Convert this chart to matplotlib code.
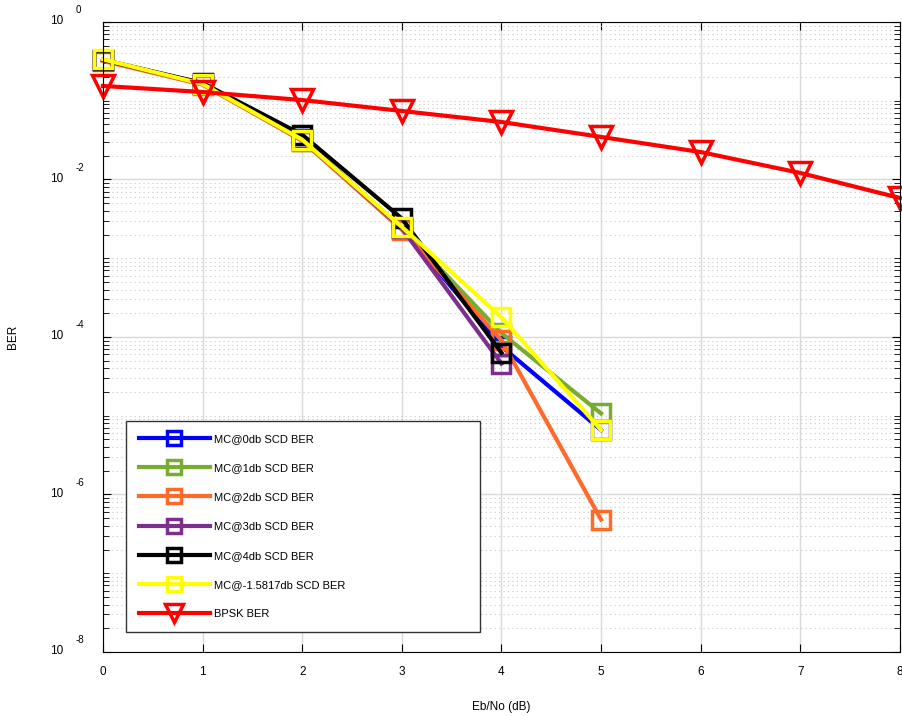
import numpy as np
import matplotlib
matplotlib.use('Agg')
import matplotlib.pyplot as plt
from matplotlib.ticker import LogLocator, NullFormatter

plt.rcParams['font.family'] = ['Liberation Sans', 'DejaVu Sans']

# Data
ebno_mc = [0, 1, 2, 3, 4, 5]
ebno_bpsk = [0, 1, 2, 3, 4, 5, 6, 7, 8]

ber_mc0 = [0.33, 0.165, 0.033, 0.0024, 7.6e-05, 6.6e-06]
ber_mc1 = [0.33, 0.163, 0.031, 0.0024, 0.000112, 1.07e-05]
ber_mc2 = [0.32, 0.16, 0.031, 0.0023, 9.1e-05, 4.8e-07]
ber_mc3 = [0.33, 0.163, 0.032, 0.0024, 4.6e-05, None]
ber_mc4 = [0.33, 0.168, 0.037, 0.0032, 6.3e-05, None]
ber_mcm = [0.335, 0.163, 0.032, 0.0025, 0.000178, 6.6e-06]
ber_bpsk = [0.154, 0.129, 0.102, 0.0741, 0.0537, 0.0347, 0.0223, 0.0121, 0.00582]

labels = ['MC@0db SCD BER', 'MC@1db SCD BER', 'MC@2db SCD BER',
          'MC@3db SCD BER', 'MC@4db SCD BER', 'MC@-1.5817db SCD BER', 'BPSK BER']
colors = ['#0000ff', '#77ac30', '#ff6a2a', '#7e2f8e', '#000000', '#ffff00', '#ff0000']

fig = plt.figure(figsize=(9.03, 7.16), dpi=100)
ax = fig.add_axes([0.114, 0.0894, 0.8826, 0.8799])

series = [ber_mc0, ber_mc1, ber_mc2, ber_mc3, ber_mc4, ber_mcm]
for ys, lab, c in zip(series, labels[:6], colors[:6]):
    xs = [x for x, y in zip(ebno_mc, ys) if y is not None]
    yv = [y for y in ys if y is not None]
    ax.plot(xs, yv, '-s', color=c, lw=3, ms=12.5, mfc='none', mew=2.5,
            label=lab, clip_on=False)
ax.plot(ebno_bpsk, ber_bpsk, '-v', color=colors[6], lw=3, ms=16, mfc='none',
        mew=2.5, label=labels[6], clip_on=False)

ax.set_yscale('log')
ax.set_xlim(0, 8)
ax.set_ylim(1e-8, 1)
ax.set_xticks(range(0, 9))
ax.yaxis.set_major_locator(LogLocator(base=100))
ax.yaxis.set_minor_locator(LogLocator(base=10, subs=np.arange(1, 10), numticks=20))
ax.yaxis.set_major_formatter(NullFormatter())
ax.yaxis.set_minor_formatter(NullFormatter())

# MATLAB-style tick labels: "10" with the exponent offset up and right
for e in [0, -2, -4, -6, -8]:
    ax.text(-0.050, 10.0**e * 10**0.01, '10', transform=ax.get_yaxis_transform(),
            ha='right', va='center', fontsize=8.5)
    ax.text(-0.034, 10.0**e * 10**0.15, str(e), transform=ax.get_yaxis_transform(),
            ha='left', va='center', fontsize=7)

ax.tick_params(which='both', direction='in', top=True, right=True, labelsize=8.5)
ax.tick_params(which='major', length=6)
ax.tick_params(which='minor', length=4)
ax.tick_params(axis='x', pad=10)

ax.grid(True, which='major', color='#d9d9d9', lw=1, ls='-')
ax.grid(True, which='minor', axis='y', color='#c8c8c8', lw=0.8, ls=(0, (1, 3)))
ax.set_axisbelow(True)

ax.set_xlabel('Eb/No (dB)', fontsize=8.5, labelpad=17)
ax.set_ylabel('BER', fontsize=8.5, labelpad=57)

leg = ax.legend(loc='lower left', bbox_to_anchor=(0.0289, 0.0317, 0.444, 0.336),
                mode='expand', fontsize=8, handlelength=6.4, handletextpad=0.4,
                labelspacing=1.73, borderpad=1.15, borderaxespad=0,
                fancybox=False, framealpha=1, edgecolor='#333333', markerscale=0.8)
leg.get_frame().set_linewidth(1)

fig.savefig('out.png', dpi=100)
